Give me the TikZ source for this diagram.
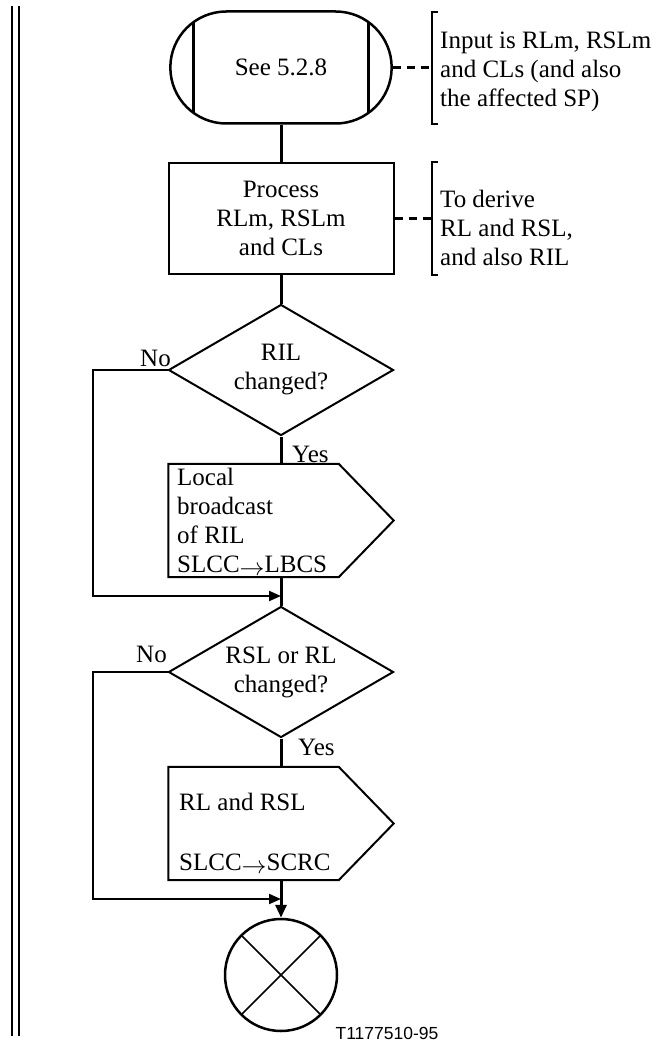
\documentclass[tikz,border=0pt]{standalone}
\usepackage{fontspec}
\setmainfont{Liberation Serif}
\newfontfamily\figsans{Liberation Sans}
\usetikzlibrary{arrows.meta,shapes.geometric,shapes.misc}
\tikzset{
  sdltext/.style={font=\fontsize{25}{29}\selectfont},
  startsym/.style={sdltext,rounded rectangle,draw,line width=2.5pt,minimum width=228pt,minimum height=112pt,
    path picture={\draw[line width=2.5pt] ([xshift=23pt]path picture bounding box.north west) -- ([xshift=23pt]path picture bounding box.south west);
      \draw[line width=2.5pt] ([xshift=-23pt]path picture bounding box.north east) -- ([xshift=-23pt]path picture bounding box.south east);}},
  procbox/.style={sdltext,draw,line width=2pt,minimum width=225pt,minimum height=111pt,align=center},
  decision/.style={sdltext,diamond,draw,line width=2pt,shape aspect=1.72,minimum width=225pt,minimum height=131pt,inner sep=0pt,align=center},
  sigbox/.style={minimum width=225pt,minimum height=113pt,inner sep=0pt},
  sigtext/.style={sdltext,align=left,inner sep=0pt,anchor=west},
  endsym/.style={circle,draw,line width=2.5pt,minimum size=112pt,inner sep=0pt,
    path picture={\draw[line width=1.5pt] (path picture bounding box.north west) -- (path picture bounding box.south east)
      (path picture bounding box.north east) -- (path picture bounding box.south west);}},
  flow/.style={line width=3pt},
  back/.style={line width=2pt,-{Triangle[length=12pt,width=10pt]}},
  dashlink/.style={line width=3pt,dash pattern=on 8pt off 6pt},
  bracket/.style={line width=2.5pt},
  lbl/.style={sdltext,inner sep=0pt}
}
% output signal outline drawn round an invisible box
\newcommand{\outsig}[1]{\draw[line width=2pt] (#1.north west) -- ([xshift=-55pt]#1.north east) -- (#1.east) -- ([xshift=-55pt]#1.south east) -- (#1.south west) -- cycle;}
\newcommand{\sigarrow}{\raisebox{-3pt}{$\rightarrow$}}

\begin{document}
\begin{tikzpicture}[x=1pt,y=-1pt]
  \useasboundingbox (0,0) rectangle (653,1043);
  \draw[line width=2.5pt] (12,6) -- (12,1036) (19,6) -- (19,1036);

  \node[startsym] (start) at (281,67.5) {See 5.2.8};
  \node[procbox] (proc) at (281,218.5) {Process\\RLm, RSLm\\and CLs};
  \node[decision] (ril) at (281,370) {RIL\\changed?};
  \node[sigbox] (lbcs) at (281,520.5) {};\outsig{lbcs}
  \node[sigtext] (lbcstxt) at (177,522) {Local\\broadcast\\of RIL\\SLCC\sigarrow LBCS};
  \coordinate (m1) at (281,596);
  \node[decision] (rsl) at (281,672) {RSL or RL\\changed?};
  \node[sigbox] (scrc) at (281,823.5) {};\outsig{scrc}
  \node[sigtext] (scrctxt) at (179,833) {RL and RSL\\[31pt]SLCC\sigarrow SCRC};
  \coordinate (m2) at (281,899);
  \node[endsym] (stop) at (281,975) {};

  \draw[flow] (start.south) -- (proc.north);
  \draw[flow] (proc.south) -- (ril.north);
  \draw[flow] (ril.south) -- (lbcs.north);
  \draw[flow] (lbcs.south) -- (rsl.north);
  \draw[flow] (rsl.south) -- (scrc.north);
  \draw[flow,-{Triangle[length=13pt,width=11pt]}] (scrc.south) -- (stop.north);
  \draw[back] (ril.west) -- ++(-75,0) |- (m1);
  \draw[back] (rsl.west) -- ++(-75,0) |- (m2);

  \node[lbl,anchor=base east] (no1) at (171,366) {No};
  \node[lbl,anchor=base west] (yes1) at (292,462) {Yes};
  \node[lbl,anchor=base east] (no2) at (167,662) {No};
  \node[lbl,anchor=base west] (yes2) at (298,755) {Yes};

  % comments
  \coordinate (br1) at (432,67.5);
  \draw[bracket] (438,12) -| (432,124) -- (438,124);
  \draw[dashlink] (start.east) -- (br1);
  \node[sigtext] (com1) at (440,72) {Input is RLm, RSLm\\and CLs (and also\\the affected SP)};
  \coordinate (br2) at (432,218.5);
  \draw[bracket] (438,162) -| (432,275) -- (438,275);
  \draw[dashlink] (proc.east) -- (br2);
  \node[sigtext] (com2) at (440,228) {To derive\\RL and RSL,\\and also RIL};

  \node[anchor=base,inner sep=0pt,font=\figsans\fontsize{17.5}{20}\selectfont] (tag) at (387,1039) {T1177510-95};
\end{tikzpicture}
\end{document}
